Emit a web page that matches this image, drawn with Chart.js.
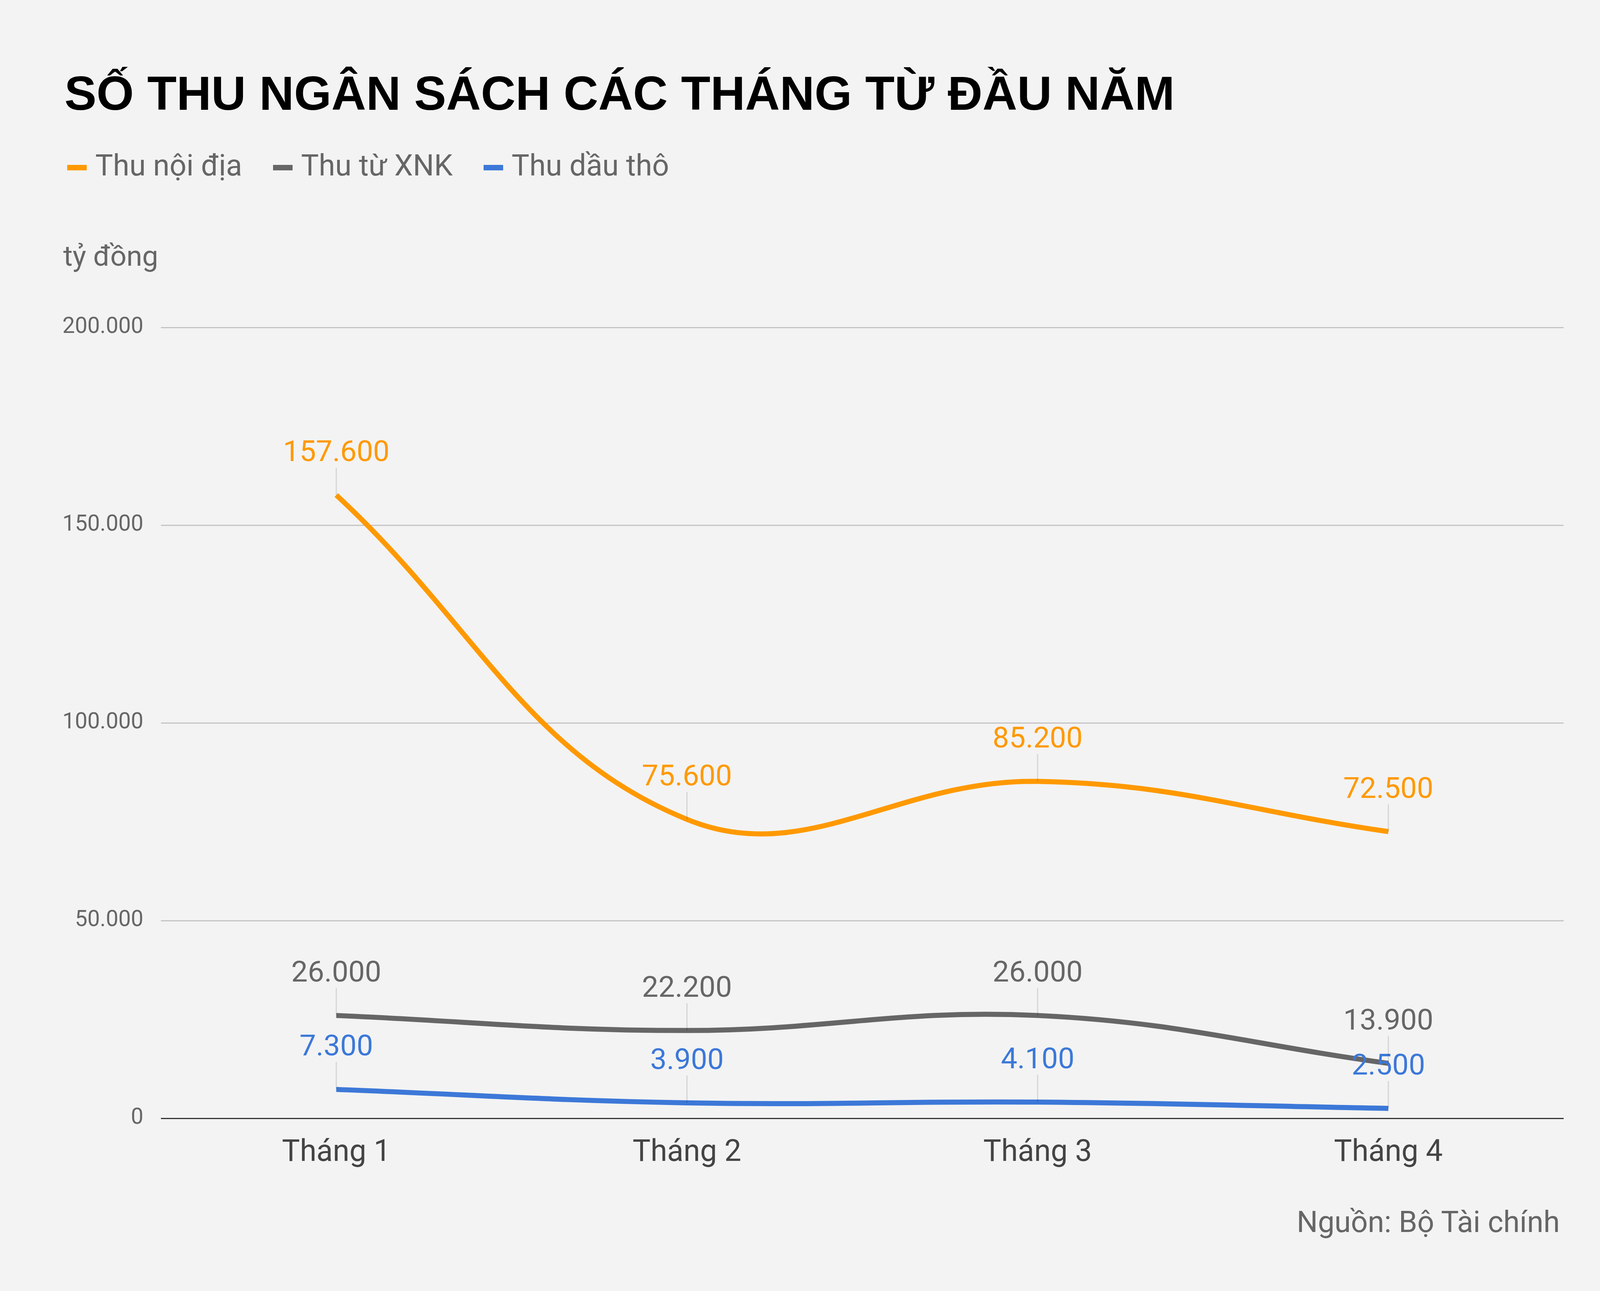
<!DOCTYPE html>
<html>
<head>
<meta charset="utf-8">
<script src="https://cdn.jsdelivr.net/npm/chart.js@4"></script>
<style>
  body { margin: 0; background: #f3f3f3; overflow: hidden; }
  #wrap { position: relative; width: 4171px; height: 3304px; background: #f3f3f3; font-family: Roboto, sans-serif; }
  canvas { position: absolute; left: 0; top: 0; }
  .t { position: absolute; white-space: nowrap; }
  #title { left: 165px; top: 168px; font: bold 123px "Liberation Sans", Arial, sans-serif; color: #000; }
  #legend { left: 172px; top: 378px; font-size: 76px; color: #666; }
  #legend span.k { display: inline-block; width: 50px; height: 14px; vertical-align: middle; margin-right: 22px; }
  #legend span.i { margin-right: 60px; }
  #unit { left: 162px; top: 612px; font-size: 73px; color: #666; }
  #src { right: 178px; top: 3082px; font-size: 76px; color: #666; }
</style>
</head>
<body>
<div id="wrap">
  <canvas id="chart" width="4171" height="3304"></canvas>
  <div class="t" id="title">SỐ THU NGÂN SÁCH CÁC THÁNG TỪ ĐẦU NĂM</div>
  <div class="t" id="legend">
    <span class="k" style="background:#ff9900"></span><span class="i">Thu nội địa</span>
    <span class="k" style="background:#666666"></span><span class="i">Thu từ XNK</span>
    <span class="k" style="background:#3c78d8"></span><span class="i">Thu dầu thô</span>
  </div>
  <div class="t" id="unit">tỷ đồng</div>
  <div class="t" id="src">Nguồn: Bộ Tài chính</div>
</div>
<script>
// data
const months = ['Tháng 1', 'Tháng 2', 'Tháng 3', 'Tháng 4'];
const noiDia = [157600, 75600, 85200, 72500];
const xnk = [26000, 22200, 26000, 13900];
const dauTho = [7300, 3900, 4100, 2500];
const yTicks = [0, 50000, 100000, 150000, 200000];

const fmt = v => v.toString().replace(/\B(?=(\d{3})+(?!\d))/g, '.');

// value labels above each point, with a faint stem down to the point
const valueLabels = {
  id: 'valueLabels',
  afterDatasetsDraw(chart) {
    const ctx = chart.ctx;
    ctx.save();
    chart.data.datasets.forEach((ds, i) => {
      chart.getDatasetMeta(i).data.forEach((pt, j) => {
        ctx.strokeStyle = 'rgba(0,0,0,0.12)';
        ctx.lineWidth = 3;
        ctx.beginPath();
        ctx.moveTo(pt.x, pt.y);
        ctx.lineTo(pt.x, pt.y - 70);
        ctx.stroke();
        ctx.fillStyle = ds.borderColor;
        ctx.font = '75px Roboto';
        ctx.textAlign = 'center';
        ctx.textBaseline = 'bottom';
        ctx.fillText(fmt(ds.data[j]), pt.x, pt.y - 68);
      });
    });
    ctx.restore();
  }
};

const mk = (label, data, color) => ({
  label, data, borderColor: color, backgroundColor: color,
  borderWidth: 13, pointRadius: 0, tension: 0.4, fill: false
});

new Chart(document.getElementById('chart'), {
  type: 'line',
  data: {
    labels: months,
    datasets: [
      mk('Thu dầu thô', dauTho, '#3c78d8'),
      mk('Thu từ XNK', xnk, '#666666'),
      mk('Thu nội địa', noiDia, '#ff9900')
    ]
  },
  options: {
    responsive: false,
    devicePixelRatio: 1,
    animation: false,
    layout: { padding: { top: 838, right: 168, bottom: 292, left: 0 } },
    plugins: { legend: { display: false }, tooltip: { enabled: false } },
    scales: {
      x: {
        offset: true,
        grid: { display: false },
        border: { display: false },
        ticks: { color: '#444', font: { family: 'Roboto', size: 77 }, padding: 36 },
        afterFit: s => { s.height = 150; }
      },
      y: {
        min: 0, max: 200000,
        afterBuildTicks: s => { s.ticks = yTicks.map(v => ({ value: v })); },
        grid: {
          color: c => c.tick && c.tick.value === 0 ? '#333333' : '#c4c4c4',
          lineWidth: 3, drawTicks: false
        },
        border: { display: false },
        ticks: { color: '#666', font: { family: 'Roboto', size: 57 }, padding: 45, callback: v => fmt(v) },
        afterFit: s => { s.width = 412; }
      }
    }
  },
  plugins: [valueLabels]
});
</script>
</body>
</html>
